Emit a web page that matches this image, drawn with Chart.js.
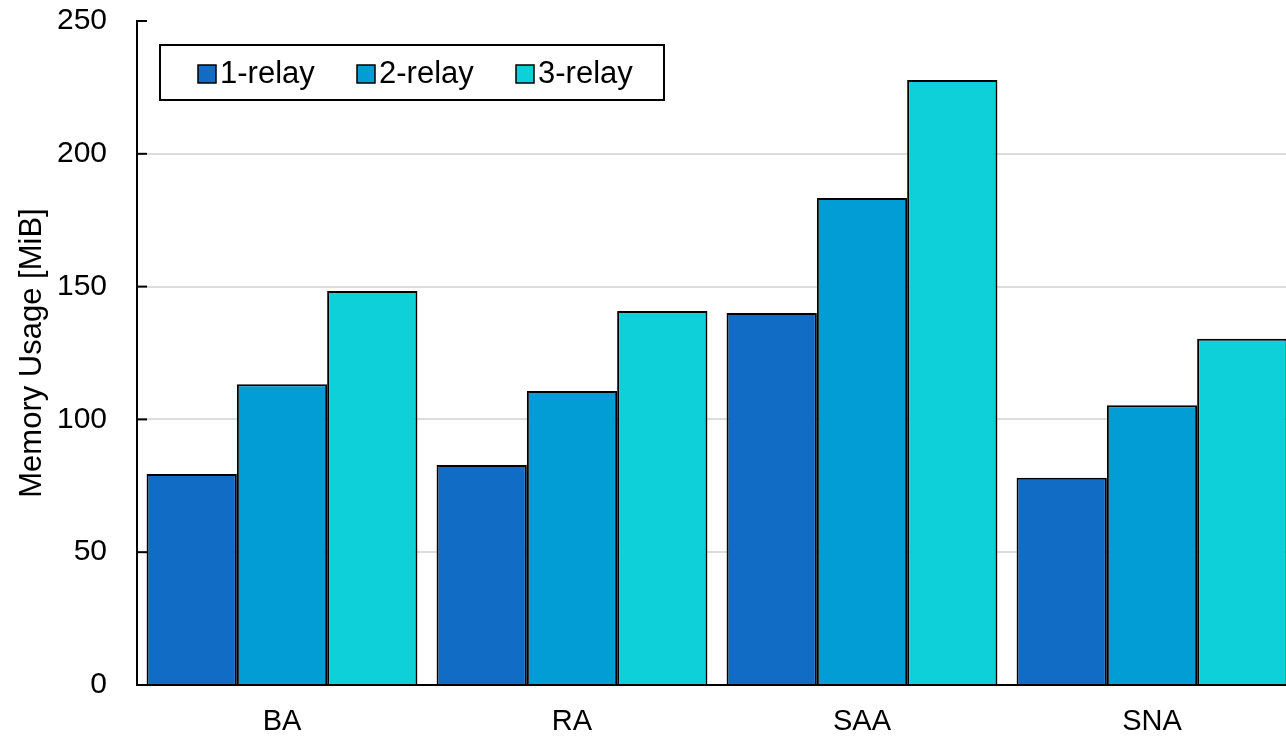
<!DOCTYPE html>
<html>
<head>
<meta charset="utf-8">
<script src="https://cdn.jsdelivr.net/npm/chart.js@4.4.1/dist/chart.umd.min.js"></script>
<style>
    html, body { margin: 0; padding: 0; background: #fff; overflow: hidden; }
    #wrap { position: absolute; left: 0; top: 0; width: 1300px; height: 738px; }
</style>
</head>
<body>
<div id="wrap"><canvas id="chart" width="1300" height="738"></canvas></div>
<script>
// data
var categories = ['BA', 'RA', 'SAA', 'SNA'];
var seriesNames = ['1-relay', '2-relay', '3-relay'];
var relay1 = [79.4, 82.8, 140.1, 78.0];
var relay2 = [113.2, 110.7, 183.4, 105.3];
var relay3 = [148.3, 140.8, 227.8, 130.4];
var yTicks = [0, 50, 100, 150, 200, 250];

var colors = ['#106cc4', '#039dd6', '#0dd0d8'];
var fontFamily = 'Arial, "Liberation Sans", sans-serif';

// small inward tick marks on the y axis
var innerTicks = {
    id: 'innerTicks',
    afterDraw: function (chart) {
        var ctx = chart.ctx;
        var y = chart.scales.y;
        var left = chart.chartArea.left;
        ctx.save();
        ctx.strokeStyle = '#000';
        ctx.lineWidth = 2;
        for (var i = 0; i < yTicks.length; i++) {
            var py = y.getPixelForValue(yTicks[i]);
            ctx.beginPath();
            ctx.moveTo(left, py);
            ctx.lineTo(left + 10, py);
            ctx.stroke();
        }
        ctx.restore();
    }
};

// boxed legend in the top-left corner of the plot
var boxLegend = {
    id: 'boxLegend',
    afterDraw: function (chart) {
        var ctx = chart.ctx;
        var area = chart.chartArea;
        var bx = area.left + 23;
        var by = area.top + 24;
        ctx.save();
        ctx.fillStyle = '#fff';
        ctx.fillRect(bx, by, 504, 55);
        ctx.strokeStyle = '#000';
        ctx.lineWidth = 2;
        ctx.strokeRect(bx, by, 504, 55);
        ctx.font = '31px ' + fontFamily;
        ctx.textBaseline = 'middle';
        ctx.textAlign = 'left';
        var ds = chart.data.datasets;
        for (var i = 0; i < ds.length; i++) {
            var x = bx + 38 + i * 159;
            var cy = by + 29;
            ctx.fillStyle = ds[i].backgroundColor;
            ctx.fillRect(x, cy - 9, 18, 18);
            ctx.lineWidth = 1.5;
            ctx.strokeRect(x, cy - 9, 18, 18);
            ctx.fillStyle = '#000';
            ctx.fillText(ds[i].label, x + 22, cy);
        }
        ctx.restore();
    }
};

var datasets = [relay1, relay2, relay3].map(function (vals, i) {
    return {
        label: seriesNames[i],
        data: vals,
        backgroundColor: colors[i],
        borderColor: '#000',
        borderWidth: 2,
        borderSkipped: 'bottom',
        barPercentage: 1.0,
        categoryPercentage: 0.934
    };
});

var ctx = document.getElementById('chart').getContext('2d');
var chart = new Chart(ctx, {
    type: 'bar',
    data: {
        labels: categories,
        datasets: datasets
    },
    options: {
        responsive: false,
        animation: false,
        layout: { padding: { top: 0, left: 0, right: 3, bottom: 0 } },
        plugins: {
            legend: { display: false },
            tooltip: { enabled: false }
        },
        scales: {
            x: {
                grid: { display: false, drawTicks: false },
                border: { display: true, color: '#000', width: 2 },
                ticks: {
                    color: '#000',
                    padding: 20,
                    font: { family: fontFamily, size: 29 }
                },
                afterFit: function (scale) { scale.height = 53; }
            },
            y: {
                min: 0,
                max: 250,
                afterBuildTicks: function (scale) {
                    scale.ticks = yTicks.map(function (v) { return { value: v }; });
                },
                grid: {
                    drawTicks: true,
                    tickLength: 27,
                    tickColor: 'rgba(0,0,0,0)',
                    lineWidth: 2,
                    color: function (c) {
                        return (c.tick && (c.tick.value === 250 || c.tick.value === 0)) ? 'rgba(0,0,0,0)' : '#dcdcdc';
                    }
                },
                border: { display: true, color: '#000', width: 2 },
                ticks: {
                    color: '#000',
                    padding: 3,
                    font: { family: fontFamily, size: 30 }
                },
                title: {
                    display: true,
                    text: 'Memory Usage [MiB]',
                    color: '#000',
                    font: { family: fontFamily, size: 31 },
                    padding: { top: 14, bottom: 0 }
                },
                afterFit: function (scale) { scale.width = 137; }
            }
        }
    },
    plugins: [innerTicks, boxLegend]
});
</script>
</body>
</html>
